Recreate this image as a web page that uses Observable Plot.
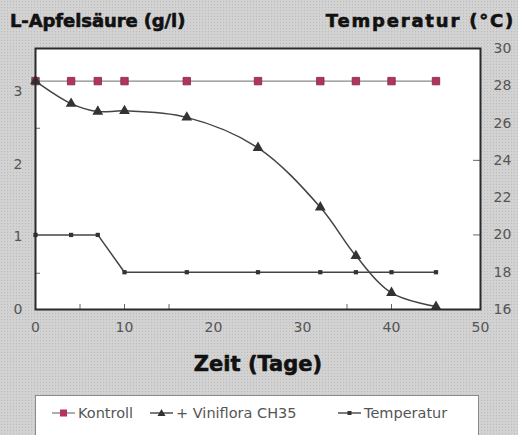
<!DOCTYPE html>
<html>
<head>
<meta charset="utf-8">
<script src="https://cdn.jsdelivr.net/npm/d3@7"></script>
<script src="https://cdn.jsdelivr.net/npm/@observablehq/plot@0.6"></script>
<style>
  html, body { margin: 0; padding: 0; }
  body { width: 518px; height: 435px; overflow: hidden; }
  #wrap {
    position: relative; width: 518px; height: 435px; overflow: hidden;
    background-color: #d2d2d2;
    background-image: radial-gradient(#bcbcbc 0.9px, transparent 1px);
    background-size: 3px 3px;
  }
  #chart { position: absolute; left: 0; top: 0; }
  .ttl { position: absolute; font-family: "DejaVu Sans", sans-serif; font-weight: bold; font-size: 18px; color: #111; white-space: nowrap; letter-spacing: -0.1px; -webkit-text-stroke: 0.6px #111; }
  #legend {
    position: absolute; left: 35px; top: 395px; width: 444px; height: 60px;
    background: #fff; border: 1.5px solid #8a8a8a; box-sizing: border-box;
    font-family: "DejaVu Sans", sans-serif; font-size: 14.5px; color: #555;
  }
  .li { position: absolute; top: 9px; display: flex; align-items: center; white-space: nowrap; }
  .li svg { margin-right: 3px; }
  #chart svg text.xt { paint-order: stroke; }
</style>
</head>
<body>
<div id="wrap">
  <div id="chart"></div>
  <div class="ttl" id="tl" style="left:10px; top:10px;"></div>
  <div class="ttl" id="tr" style="right:3px; top:10px; letter-spacing:1.8px;"></div>
  <div id="legend"></div>
</div>
<script>
// ---- data ----
const days = [0, 4, 7, 10, 17, 25, 32, 36, 40, 45];
const kontroll = [3.15, 3.15, 3.15, 3.15, 3.15, 3.15, 3.15, 3.15, 3.15, 3.15];
const viniflora = [3.15, 2.84, 2.73, 2.74, 2.65, 2.23, 1.41, 0.74, 0.23, 0.04];
const temperatur = [20, 20, 20, 18, 18, 18, 18, 18, 18, 18];
const seriesNames = ["Kontroll", "+ Viniflora CH35", "Temperatur"];
const xTicks = [0, 10, 20, 30, 40, 50];
const xMinor = [5, 10, 15, 35, 40];
const yTicks = [0, 1, 2, 3];
const yMinor = [0.5, 2.5];
const tTicks = [16, 18, 20, 22, 24, 26, 28, 30];
const tMinor = [20, 24];
const yTitle = "L-Apfelsäure (g/l)";
const tTitle = "Temperatur (°C)";
const xTitle = "Zeit (Tage)";

// temperature axis mapped onto the left scale
const yMax = 3.6, tMin = 16, tMax = 30;
const t2y = t => (t - tMin) / (tMax - tMin) * yMax;
const y2t = y => Math.round(y / yMax * (tMax - tMin) + tMin);

const kData = days.map((d, i) => ({x: d, y: kontroll[i]}));
const vData = days.map((d, i) => ({x: d, y: viniflora[i]}));
const tData = days.map((d, i) => ({x: d, y: t2y(temperatur[i])}));

const fontLbl = {fontSize: 14, fill: "#555", fontFamily: "DejaVu Sans, sans-serif", label: null};
const noLbl = {tickFormat: () => "", stroke: "#666", label: null};

const chart = Plot.plot({
  width: 518, height: 435,
  marginTop: 48, marginLeft: 35, marginRight: 38, marginBottom: 126,
  style: {background: "transparent", overflow: "visible"},
  x: {domain: [0, 50], axis: null},
  y: {domain: [0, yMax], axis: null},
  marks: [
    Plot.frame({fill: "white"}),
    // inward minor ticks
    Plot.axisX({ticks: xMinor, tickSize: -5, ...noLbl}),
    Plot.axisY({ticks: yMinor, tickSize: -5, ...noLbl}),
    Plot.axisY({ticks: tMinor.map(t2y), anchor: "right", tickSize: -8, ...noLbl}),
    // labels
    Plot.axisX({ticks: xTicks, tickSize: 0, tickPadding: 13, tickFormat: d => d, ...fontLbl}),
    Plot.axisY({ticks: yTicks, tickSize: 0, tickPadding: 13, tickFormat: d => d, ...fontLbl}),
    Plot.axisY({ticks: tTicks.map(t2y), anchor: "right", tickSize: 0, tickPadding: 13, tickFormat: y2t, ...fontLbl}),
    // series
    Plot.line(kData, {x: "x", y: "y", stroke: "#8a8a8a", strokeWidth: 1.3}),
    Plot.line(tData, {x: "x", y: "y", stroke: "#444", strokeWidth: 1.5}),
    Plot.line(vData, {x: "x", y: "y", stroke: "#444", strokeWidth: 1.5, curve: "catmull-rom"}),
    Plot.dot(kData, {x: "x", y: "y", symbol: "square", r: 4.2, fill: "#b3335d", stroke: "#7d2a45", strokeWidth: 0.8}),
    Plot.dot(vData, {x: "x", y: "y", symbol: "triangle", r: 4, fill: "#333"}),
    Plot.dot(tData, {x: "x", y: "y", symbol: "square", r: 2.4, fill: "#333"}),
    Plot.frame({stroke: "#2a2a2a", strokeWidth: 2}),
    Plot.text([xTitle], {frameAnchor: "bottom", dy: 61, fontSize: 21, fontWeight: "bold", fill: "#111", stroke: "#111", strokeWidth: 0.6, fontFamily: "DejaVu Sans, sans-serif", text: d => d})
  ]
});
document.getElementById("chart").appendChild(chart);
document.getElementById("tl").textContent = yTitle;
document.getElementById("tr").textContent = tTitle;

// legend
const leg = document.getElementById("legend");
const items = [
  {name: seriesNames[0], left: 16, stroke: "#8a8a8a", sym: '<rect x="8" y="2.5" width="7" height="7" fill="#b3335d"/>'},
  {name: seriesNames[1], left: 114, stroke: "#444", sym: '<path d="M11.5,2 L15.5,9 L7.5,9 Z" fill="#333"/>'},
  {name: seriesNames[2], left: 302, stroke: "#444", sym: '<rect x="9.5" y="4" width="4" height="4" fill="#333"/>'}
];
items.forEach(it => {
  const d = document.createElement("div");
  d.className = "li";
  d.style.left = it.left + "px";
  d.innerHTML = `<svg width="23" height="12"><line x1="0" y1="6" x2="23" y2="6" stroke="${it.stroke}" stroke-width="1.4"/>${it.sym}</svg><span>${it.name}</span>`;
  leg.appendChild(d);
});
</script>
</body>
</html>
